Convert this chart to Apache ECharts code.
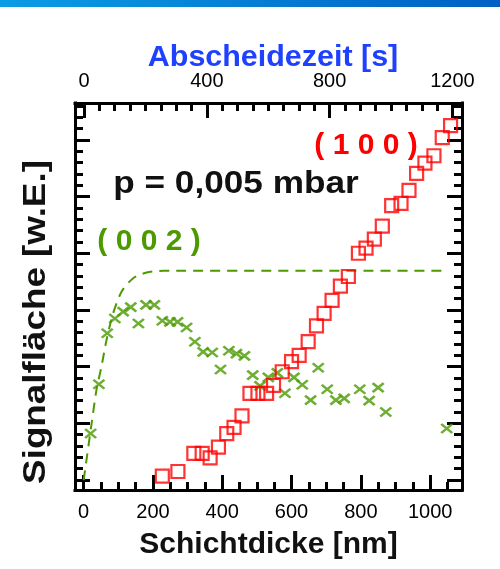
<!DOCTYPE html>
<html>
<head>
<meta charset="utf-8">
<script src="https://cdn.jsdelivr.net/npm/echarts@6.0.0/dist/echarts.min.js"></script>
<style>
html, body { margin: 0; padding: 0; background: #fff; }
#main { width: 500px; height: 569px; }
</style>
</head>
<body>
<div id="main"></div>
<script>
// tick labels
var thickLabels = [0, 200, 400, 600, 800, 1000]
var timeLabels = [0, 400, 800, 1200]
var signalMajor = [0, 10, 20, 30, 40, 50, 60]

// (100) reflex, red squares: [Schichtdicke nm, Signal]
var red100 = [
    [227, 0.7], [272, 1.5], [318, 4.7], [342, 4.7], [365, 3.9], [389, 5.8],
    [413, 8.2], [434, 9.3], [457, 11.3], [480, 15.3], [503, 15.3], [528, 15.3],
    [548, 16.7], [573, 19.1], [600, 20.9], [622, 22.0], [648, 24.4], [672, 27.2],
    [694, 29.4], [717, 31.7], [741, 34.2], [764, 35.9], [793, 40.0], [815, 40.9],
    [839, 42.5], [862, 44.8], [889, 48.4], [916, 48.8], [939, 51.1], [961, 54.1],
    [985, 55.9], [1011, 57.2], [1035, 60.4], [1059, 62.5]
]

// (002) reflex, green crosses
var green002 = [
    [20, 8.2], [44, 16.9], [68, 25.9], [90, 28.5], [114, 29.7], [136, 30.5],
    [158, 27.6], [180, 30.9], [204, 30.9], [227, 28.1], [249, 27.9], [271, 27.9],
    [297, 26.9], [321, 24.4], [345, 22.6], [371, 22.5], [395, 19.5], [419, 22.8],
    [441, 22.3], [464, 21.9], [488, 18.5], [509, 16.6], [533, 18.1], [559, 18.9],
    [581, 15.3], [607, 18.1], [631, 16.8], [655, 14.1], [677, 19.8], [703, 16.0],
    [728, 14.1], [752, 14.4], [797, 16.0], [824, 14.0], [850, 16.3], [872, 12.0],
    [1048, 9.1]
]

// dashed fit of (002)
var fit002 = [
    [0, 0], [23, 10], [37, 15.9], [52, 20.2], [66, 24.7], [85, 29.4],
    [110, 33.3], [143, 35.6], [182, 36.6], [230, 36.9], [1047, 36.9]
]

function steps(from, to, step) {
    var out = []
    for (var v = from; v <= to; v += step) out.push(v)
    return out
}
var thickMinor = steps(50, 1050, 50)
var timeMinor = steps(50, 1200, 50)
var signalMinor = steps(2, 66, 2)

var frameLine = { color: '#000', width: 3, cap: 'square' }

function frameAxis(position, min, max, ticks, len, labels, showLine) {
    return {
        type: 'value',
        position: position,
        min: min,
        max: max,
        axisLine: { show: showLine, onZero: false, lineStyle: frameLine },
        axisTick: {
            show: true, inside: true, length: len, customValues: ticks,
            lineStyle: { color: '#000', width: 3 }
        },
        axisLabel: labels ? {
            show: true, customValues: labels, fontSize: 20, color: '#000',
            margin: 12, fontFamily: 'Liberation Sans',
            formatter: function (v) { return String(v) }
        } : { show: false },
        splitLine: { show: false }
    }
}

var xMin = -25, xMax = 1092
var tMin = -29.3, tMax = 1231
var yMin = -1.76, yMax = 66.5

var bottomAxis = frameAxis('bottom', xMin, xMax, thickLabels, 15, thickLabels, true)
bottomAxis.name = 'Schichtdicke [nm]'
bottomAxis.nameLocation = 'middle'
bottomAxis.nameGap = 40
bottomAxis.nameTextStyle = { fontSize: 30, fontWeight: 'bold', color: '#111', fontFamily: 'Liberation Sans' }

var myChart = echarts.init(document.getElementById('main'))

var option = {
    animation: false,
    backgroundColor: '#fff',
    textStyle: { fontFamily: 'Liberation Sans' },
    grid: { left: 75, top: 103, right: 38, bottom: 79, containLabel: false },
    xAxis: [
        bottomAxis,
        frameAxis('bottom', xMin, xMax, thickMinor, 8, null, false),
        frameAxis('top', tMin, tMax, timeLabels, 15, timeLabels, true),
        frameAxis('top', tMin, tMax, timeMinor, 8, null, false)
    ],
    yAxis: [
        frameAxis('left', yMin, yMax, signalMajor, 15, null, true),
        frameAxis('left', yMin, yMax, signalMinor, 8, null, false),
        frameAxis('right', yMin, yMax, signalMajor, 15, null, true),
        frameAxis('right', yMin, yMax, signalMinor, 8, null, false)
    ],
    graphic: [
        {
            type: 'rect', x: 0, y: 0, shape: { width: 500, height: 7 },
            style: {
                fill: new echarts.graphic.LinearGradient(0, 0, 1, 0, [
                    { offset: 0, color: '#0a9de4' },
                    { offset: 1, color: '#0060c4' }
                ])
            }
        },
        {
            type: 'text', x: 273, y: 58, scaleX: 1.05,
            style: { text: 'Abscheidezeit [s]', fill: '#1e40ff', font: 'bold 29px "Liberation Sans"', align: 'center', verticalAlign: 'middle' }
        },
        {
            type: 'text', x: 36, y: 322, rotation: Math.PI / 2, scaleX: 1.15,
            style: { text: 'Signalfläche [w.E.]', fill: '#111', font: 'bold 32px "Liberation Sans"', align: 'center', verticalAlign: 'middle' }
        },
        {
            type: 'text', x: 236, y: 184, scaleX: 1.1,
            style: { text: 'p = 0,005 mbar', fill: '#111', font: 'bold 32px "Liberation Sans"', align: 'center', verticalAlign: 'middle' }
        },
        {
            type: 'text', x: 366, y: 146,
            style: { text: '( 1 0 0 )', fill: '#ff0000', font: 'bold 30px "Liberation Sans"', align: 'center', verticalAlign: 'middle' }
        },
        {
            type: 'text', x: 149, y: 242,
            style: { text: '( 0 0 2 )', fill: '#4c9900', font: 'bold 30px "Liberation Sans"', align: 'center', verticalAlign: 'middle' }
        }
    ],
    series: [
        {
            name: 'fit (002)',
            type: 'line',
            data: fit002,
            showSymbol: false,
            smooth: 0.25,
            lineStyle: { color: '#4c9900', width: 2, type: [10, 7] },
            z: 2
        },
        {
            name: '(002)',
            type: 'scatter',
            data: green002,
            symbol: 'path://M0,0L10,8M10,0L0,8',
            symbolSize: [11, 9],
            itemStyle: { color: 'none', borderColor: '#4a9a00', borderWidth: 2.5 },
            z: 3
        },
        {
            name: '(100)',
            type: 'scatter',
            data: red100,
            symbol: 'rect',
            symbolSize: 13,
            itemStyle: { color: 'rgba(0,0,0,0)', borderColor: '#ff0000', borderWidth: 2.2 },
            z: 4
        }
    ]
}

myChart.setOption(option)
</script>
</body>
</html>
